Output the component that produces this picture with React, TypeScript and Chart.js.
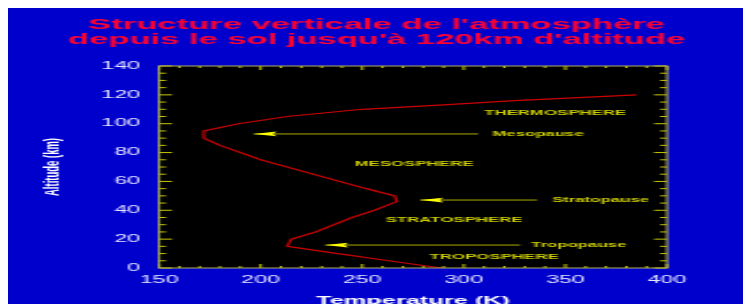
import React, { useEffect, useRef } from 'react';
import { Chart, registerables } from 'chart.js';

Chart.register(...registerables);

// ---- text ----
const titleLines = ["Structure verticale de l'atmosphère", "depuis le sol jusqu'à 120km d'altitude"];
const xTitle = 'Temperature (K)';
const yTitle = 'Altitude (km)';

// ---- temperature profile ----
const altitudeKm = [0, 5, 10, 15, 20, 25, 30, 35, 40, 46, 50, 55, 60, 65, 70, 75, 80, 85, 90, 95, 100, 105, 110, 113, 116, 120];
const temperatureK = [289, 263, 238, 213, 215, 227, 236, 245, 256, 267, 266, 252, 239, 226, 213, 200, 190, 180, 172, 172, 189, 213, 250, 290, 325, 385];

// ---- axes ----
const xMin = 150;
const xMax = 400;
const xMajorStep = 50;
const xMinorStep = 10;
const yMin = 0;
const yMax = 140;
const yMajorStep = 20;
const yMinorStep = 5;

// ---- arrows (pointing left, to the pauses) ----
const arrowLabels = ['Mesopause', 'Stratopause', 'Tropopause'];
const arrowAlt = [92.9, 47.1, 15.9];
const arrowTipT = [196.5, 278.5, 231.7];
const arrowEndT = [307, 336, 327.7];
const arrowLabelT = [314, 343.4, 333.1];

// ---- layer names ----
const layerNames = ['THERMOSPHERE', 'MESOSPHERE', 'STRATOSPHERE', 'TROPOSPHERE'];
const layerCenterT = [344.9, 275.5, 295.2, 314.9];
const layerAlt = [107.6, 72.1, 33.3, 7.6];

// ---- styling ----
const BG = '#0000cd';
const PLOT_BG = '#000000';
const CURVE = '#cc0000';
const ARROW = '#aaaa00';
const ARROW_HEAD = '#ffff00';
const LABEL = '#cccc00';
const TICK = '#c8c800';
const FRAME = '#b0b050';
const TICK_LABEL = '#e6e6ff';
const TITLE = '#ff0030';
const FONT = '"Liberation Sans", Arial, sans-serif';

// The picture is a horizontally stretched plot: draw at a narrow intrinsic
// width and let CSS stretch it to the full width.
const INTRINSIC_W = 320;
const CSS_W = 737;
const H = 310;

const decor = {
  id: 'decor',
  beforeDraw(chart: any) {
    const { ctx, chartArea: a } = chart;
    ctx.save();
    ctx.fillStyle = PLOT_BG;
    ctx.fillRect(a.left, a.top, a.right - a.left, a.bottom - a.top);
    ctx.restore();
  },
  afterDatasetsDraw(chart: any) {
    const { ctx, chartArea: a, scales } = chart;
    const x = scales.x;
    const y = scales.y;
    ctx.save();
    const seg = (x1: number, y1: number, x2: number, y2: number) => {
      ctx.beginPath();
      ctx.moveTo(x1, y1);
      ctx.lineTo(x2, y2);
      ctx.stroke();
    };
    // inward ticks
    ctx.strokeStyle = TICK;
    ctx.lineWidth = 1;
    for (let v = xMin; v <= xMax; v += xMinorStep) {
      const px = x.getPixelForValue(v);
      const len = (v - xMin) % xMajorStep === 0 ? 4 : 2;
      seg(px, a.bottom, px, a.bottom - len);
      seg(px, a.top, px, a.top + len);
    }
    for (let v = yMin; v <= yMax; v += yMinorStep) {
      const py = y.getPixelForValue(v);
      const len = (v - yMin) % yMajorStep === 0 ? 5.6 : 3;
      seg(a.left, py, a.left + len, py);
      seg(a.right, py, a.right - len, py);
    }
    // frame
    ctx.strokeStyle = FRAME;
    ctx.strokeRect(a.left, a.top, a.right - a.left, a.bottom - a.top);

    // arrow heads
    ctx.fillStyle = ARROW_HEAD;
    arrowAlt.forEach((alt, i) => {
      const tx = x.getPixelForValue(arrowTipT[i]);
      const ty = y.getPixelForValue(alt);
      ctx.beginPath();
      ctx.moveTo(tx, ty);
      ctx.lineTo(tx + 10, ty - 2.4);
      ctx.lineTo(tx + 8.5, ty);
      ctx.lineTo(tx + 10, ty + 2.4);
      ctx.closePath();
      ctx.fill();
    });

    // labels
    ctx.fillStyle = LABEL;
    ctx.font = `bold 7.3px ${FONT}`;
    ctx.textBaseline = 'middle';
    ctx.textAlign = 'left';
    arrowLabels.forEach((t, i) => {
      ctx.fillText(t, x.getPixelForValue(arrowLabelT[i]), y.getPixelForValue(arrowAlt[i]));
    });
    ctx.textAlign = 'center';
    layerNames.forEach((t, i) => {
      ctx.fillText(t, x.getPixelForValue(layerCenterT[i]), y.getPixelForValue(layerAlt[i]));
    });
    ctx.restore();
  },
};

export default function App() {
  const ref = useRef<HTMLCanvasElement | null>(null);

  useEffect(() => {
    document.documentElement.style.overflow = 'hidden';
    document.body.style.overflow = 'hidden';
    const canvas = ref.current;
    if (!canvas) return;

    const profile = altitudeKm.map((a, i) => ({ x: temperatureK[i], y: a }));
    const arrows = arrowAlt.map((a, i) => ({
      label: arrowLabels[i],
      data: [
        { x: arrowTipT[i], y: a },
        { x: arrowEndT[i], y: a },
      ],
      showLine: true,
      borderColor: ARROW,
      borderWidth: 1,
      pointRadius: 0,
      fill: false,
    }));

    const chart = new Chart(canvas, {
      type: 'scatter',
      data: {
        datasets: [
          {
            label: 'Température',
            data: profile,
            showLine: true,
            borderColor: CURVE,
            borderWidth: 1.2,
            pointRadius: 0,
            tension: 0,
            fill: false,
          },
          ...arrows,
        ],
      },
      options: {
        responsive: false,
        animation: false,
        devicePixelRatio: 1,
        layout: { padding: { left: 0, right: 0, top: 0, bottom: 7.4 } },
        plugins: {
          legend: { display: false },
          tooltip: { enabled: false },
          title: {
            display: true,
            text: titleLines,
            color: TITLE,
            font: { family: FONT, size: 15, weight: 'bold', lineHeight: 1 },
            padding: { top: 12.5, bottom: 18.5 },
          },
        },
        scales: {
          x: {
            type: 'linear',
            position: 'bottom',
            min: xMin,
            max: xMax,
            ticks: {
              stepSize: xMajorStep,
              color: TICK_LABEL,
              font: { family: FONT, size: 10 },
              padding: 6.5,
              maxRotation: 0,
              autoSkip: false,
            },
            grid: { display: false, drawTicks: false },
            border: { display: false },
            title: {
              display: true,
              text: xTitle,
              color: '#ffffff',
              font: { family: FONT, size: 11, weight: 'bold' },
              padding: 0,
            },
            afterFit: (s: any) => {
              s.height = 39.6;
            },
          },
          y: {
            type: 'linear',
            position: 'left',
            min: yMin,
            max: yMax,
            ticks: {
              stepSize: yMajorStep,
              color: TICK_LABEL,
              font: { family: FONT, size: 10 },
              padding: 8.3,
            },
            grid: { display: false, drawTicks: false },
            border: { display: false },
            title: {
              display: true,
              text: yTitle,
              color: '#ffffff',
              font: { family: FONT, size: 9.5, weight: 'bold' },
              padding: { top: 13.8, bottom: 0 },
            },
            afterFit: (s: any) => {
              s.width = 65.6;
            },
          },
          y2: {
            type: 'linear',
            position: 'right',
            display: true,
            ticks: { display: false },
            grid: { display: false, drawTicks: false },
            border: { display: false },
            afterFit: (s: any) => {
              s.width = 33.9;
            },
          },
        },
      } as any,
      plugins: [decor],
    });

    return () => chart.destroy();
  }, []);

  return (
    <div style={{ width: CSS_W, height: H, marginTop: -3, background: BG, overflow: 'hidden' }}>
      <canvas
        ref={ref}
        width={INTRINSIC_W}
        height={H}
        style={{ width: CSS_W, height: H, display: 'block' }}
      />
    </div>
  );
}
